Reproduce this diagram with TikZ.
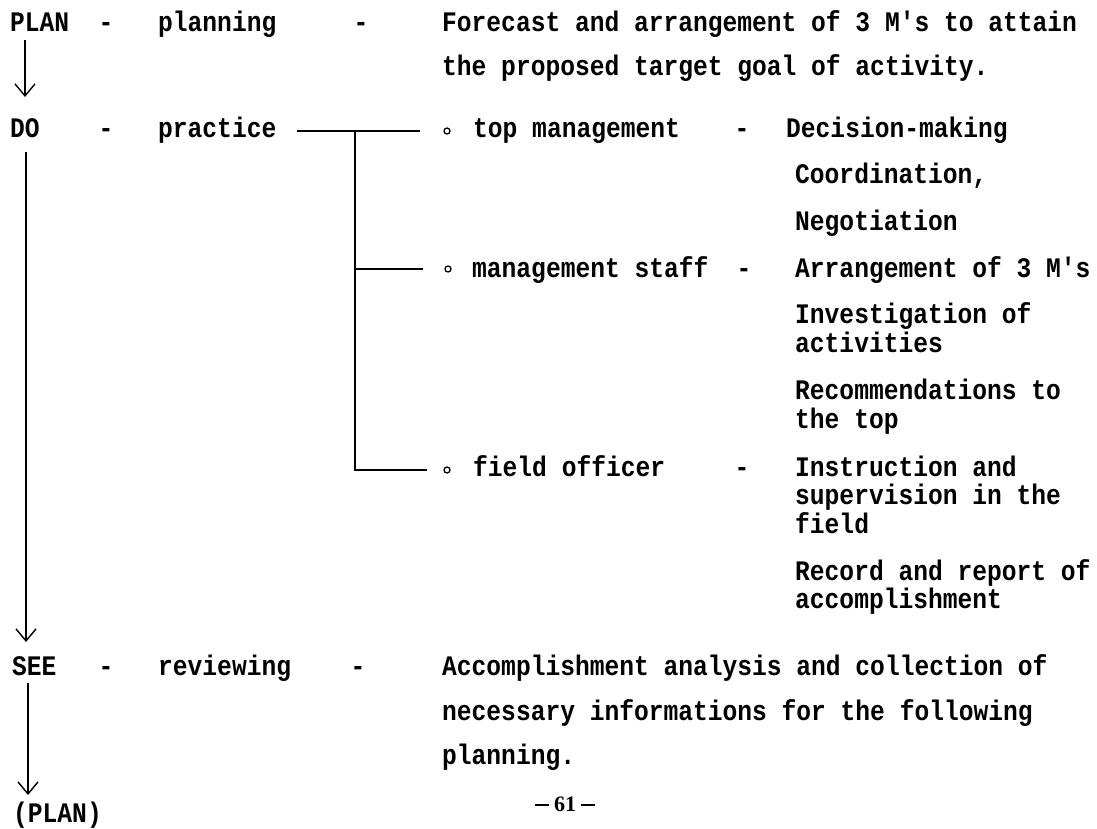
\documentclass[tikz,border=0pt]{standalone}
\usepackage{fontspec}
\usepackage{graphicx}
\newfontfamily\tw{Liberation Mono}
\newfontfamily\pgfont{Liberation Serif}
\newcommand\tsc[1]{\scalebox{1}[1.15]{#1}}
\usetikzlibrary{arrows.meta}
\begin{document}
\begin{tikzpicture}[x=1pt,y=-1pt,
  tt/.style={anchor=base west, inner sep=0pt, font=\tw\bfseries\fontsize{24.6}{30}\selectfont},
  dashmark/.style={tt, anchor=base},
  bul/.style={circle, draw, line width=1.3pt, minimum size=6pt, inner sep=0pt},
  ln/.style={line width=1.6pt},
  arr/.style={line width=1.6pt, -{Straight Barb[length=12pt,width=20pt,line width=1.4pt]}}]
\useasboundingbox (0,0) rectangle (1097,829);

% PLAN row
\node[tt] (plan) at (10,32) {\tsc{PLAN}};
\node[dashmark] (d1) at (106,32) {\tsc{-}};
\node[tt] (planning) at (158,32) {\tsc{planning}};
\node[dashmark] (d2) at (361,32) {\tsc{-}};
\node[tt] (fc1) at (442,32) {\tsc{Forecast and arrangement of 3 M's to attain}};
\node[tt] (fc2) at (442,76) {\tsc{the proposed target goal of activity.}};

% DO row
\node[tt] (do) at (10,138) {\tsc{DO}};
\node[dashmark] (d3) at (106,138) {\tsc{-}};
\node[tt] (practice) at (158,138) {\tsc{practice}};

\coordinate (j0) at (297,131);
\coordinate (j1) at (420,131);
\coordinate (jv) at (355,131);
\coordinate (m0) at (355,269);
\coordinate (m1) at (423,269);
\coordinate (f1) at (427,470);

\node[bul] (b1) at (447,131) {};
\node[bul] (b2) at (448,269) {};
\node[bul] (b3) at (447,470) {};

\node[tt] (top) at (473,138) {\tsc{top management}};
\node[dashmark] (d4) at (742,138) {\tsc{-}};
\node[tt] (e1) at (786,138) {\tsc{Decision-making}};
\node[tt] (e2) at (795,184) {\tsc{Coordination,}};
\node[tt] (e3) at (795,230) {\tsc{Negotiation}};

\node[tt] (staff) at (472,277) {\tsc{management staff}};
\node[dashmark] (d5) at (744,277) {\tsc{-}};
\node[tt] (e4) at (795,277) {\tsc{Arrangement of 3 M's}};
\node[tt] (e5) at (795,323) {\tsc{Investigation of}};
\node[tt] (e6) at (795,352) {\tsc{activities}};
\node[tt] (e7) at (795,399) {\tsc{Recommendations to}};
\node[tt] (e8) at (795,428) {\tsc{the top}};

\node[tt] (field) at (473,476) {\tsc{field officer}};
\node[dashmark] (d6) at (742,476) {\tsc{-}};
\node[tt] (e9) at (795,476) {\tsc{Instruction and}};
\node[tt] (e10) at (795,504) {\tsc{supervision in the}};
\node[tt] (e11) at (795,533) {\tsc{field}};
\node[tt] (e12) at (795,580) {\tsc{Record and report of}};
\node[tt] (e13) at (795,608) {\tsc{accomplishment}};

\draw[ln] (j0) -- (j1);
\draw[ln] (jv) |- (f1);
\draw[ln] (m0) -- (m1);

% SEE row
\node[tt] (see) at (12,675) {\tsc{SEE}};
\node[dashmark] (d7) at (106,675) {\tsc{-}};
\node[tt] (reviewing) at (158,675) {\tsc{reviewing}};
\node[dashmark] (d8) at (358,675) {\tsc{-}};
\node[tt] (g1) at (442,675) {\tsc{Accomplishment analysis and collection of}};
\node[tt] (g2) at (442,720) {\tsc{necessary informations for the following}};
\node[tt] (g3) at (442,764) {\tsc{planning.}};

\node[anchor=base, inner sep=0pt, font=\pgfont\bfseries\fontsize{22}{24}\selectfont] (pg) at (565,811)
  {\rule[5.5pt]{14pt}{2pt}\kern5pt 61\kern5pt\rule[5.5pt]{14pt}{2pt}};
\node[tt] (plan2) at (13,822) {\tsc{(PLAN)}};

% spine arrows
\coordinate (s1a) at (25,40);
\coordinate (s1b) at (25,97);
\coordinate (s2a) at (26,152);
\coordinate (s2b) at (26,642);
\coordinate (s3a) at (28,683);
\coordinate (s3b) at (28,795);
\draw[arr] (s1a) -- (s1b);
\draw[arr] (s2a) -- (s2b);
\draw[arr] (s3a) -- (s3b);
\end{tikzpicture}
\end{document}
